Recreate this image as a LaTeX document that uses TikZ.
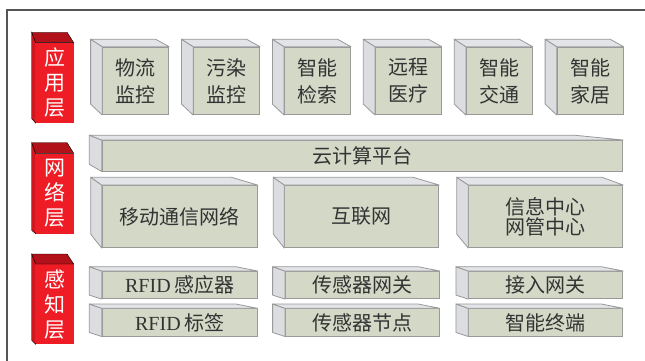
\documentclass[tikz,border=0pt]{standalone}
\usepackage{fontspec}
\setmainfont{Liberation Serif}
\newfontfamily\cjk{Noto Sans CJK SC}
\usetikzlibrary{calc}
\definecolor{frontc}{HTML}{D3D8C7}
\definecolor{sidec}{HTML}{DCDDE1}
\definecolor{topc}{HTML}{E3E4E7}
\definecolor{edgec}{HTML}{999999}
\definecolor{redf}{HTML}{EE1C25}
\definecolor{reds}{HTML}{D0161E}
\definecolor{redt}{HTML}{B2111A}
\definecolor{txtc}{HTML}{333333}
\definecolor{framec}{HTML}{555555}
\tikzset{
  frontbox/.style={draw=edgec, fill=frontc, line width=0.8pt, inner sep=0pt, anchor=north west,
    align=center, text=txtc, font=\fontsize{20}{27}\selectfont\cjk},
  redbox/.style={fill=redf, inner sep=0pt, anchor=north west, minimum width=37.6pt, minimum height=80pt,
    align=center, text=white, font=\fontsize{21}{25}\selectfont\cjk},
  gside/.style={draw=edgec, fill=sidec, line width=0.8pt, line join=round},
  gtop/.style={draw=edgec, fill=topc, line width=0.8pt, line join=round},
  rside/.style={fill=reds},
  rtop/.style={fill=redt},
}
% #1 node, #2 dx back, #3 dy top, #4 dy bottom, #5 dx right back, #6 style prefix
\newcommand\cubefaces[6]{%
  \filldraw[#6side] (#1.north west) -- ++(#2,#3) -- ($(#1.south west)+(#2,#4)$) -- (#1.south west) -- cycle;
  \filldraw[#6top] (#1.north west) -- ++(#2,#3) -- ($(#1.north east)+(#5,#3)$) -- (#1.north east) -- cycle;
}
\begin{document}
\begin{tikzpicture}[x=1pt,y=-1pt]
\useasboundingbox[fill=white] (0,0) rectangle (645,361);
\draw[framec, line width=1.3pt] (7,361) -- (7,10) -- (645,10);

% red layer labels
\node[redbox] (l1) at (35.7,42.7) {应\\用\\层};
\node[redbox] (l2) at (35.7,153.3) {网\\络\\层};
\node[redbox] (l3) at (35.7,264) {感\\知\\层};
\cubefaces{l1}{-4}{-10.4}{-4.4}{-6.6}{r}
\cubefaces{l2}{-4}{-10.6}{-3.3}{-6.6}{r}
\cubefaces{l3}{-4}{-10}{-4}{-6.6}{r}

% application layer
\foreach \t [count=\i from 0] in {物流\\监控, 污染\\监控, 智能\\检索, 远程\\医疗, 智能\\交通, 智能\\家居}{
  \node[frontbox, minimum width=66pt, minimum height=67.6pt] (a\i) at (102.3+90.9*\i,46.7) {\t};
  \cubefaces{a\i}{-11.7}{-7.5}{-11}{-13.5}{g}
}

% network layer
\node[frontbox, minimum width=520.6pt, minimum height=30.7pt] (cloud) at (101.7,140) {云计算平台};
\cubefaces{cloud}{-12.4}{-4.8}{-7.2}{-49}{g}
\node[frontbox, minimum width=155pt, minimum height=62.3pt] (n1) at (101.7,185) {移动通信网络};
\node[frontbox, minimum width=154pt, minimum height=62.3pt] (n2) at (284.3,185) {互联网};
\node[frontbox, minimum width=154pt, minimum height=62.3pt, font=\fontsize{20}{20}\selectfont\cjk] (n3) at (468.3,185) {信息中心\\网管中心};
\cubefaces{n1}{-11}{-7.7}{-14}{-26}{g}
\cubefaces{n2}{-11}{-7.7}{-14}{-26}{g}
\cubefaces{n3}{-11.6}{-7.7}{-14}{-21}{g}

% perception layer
\node[frontbox, minimum width=155pt, minimum height=27.3pt] (s1) at (101.7,271) {{\rmfamily RFID\,}感应器};
\node[frontbox, minimum width=154pt, minimum height=27.3pt] (s2) at (285,271) {传感器网关};
\node[frontbox, minimum width=154pt, minimum height=27.3pt] (s3) at (468.3,271) {接入网关};
\node[frontbox, minimum width=155pt, minimum height=27.4pt] (s4) at (101.7,308.3) {{\rmfamily RFID\,}标签};
\node[frontbox, minimum width=154pt, minimum height=27.4pt] (s5) at (285,308.3) {传感器节点};
\node[frontbox, minimum width=154pt, minimum height=27.4pt] (s6) at (468.3,308.3) {智能终端};
\foreach \n in {s1,s2,s3,s4,s5,s6}{
  \cubefaces{\n}{-12.4}{-4.3}{-4}{-21.7}{g}
}
\end{tikzpicture}
\end{document}
